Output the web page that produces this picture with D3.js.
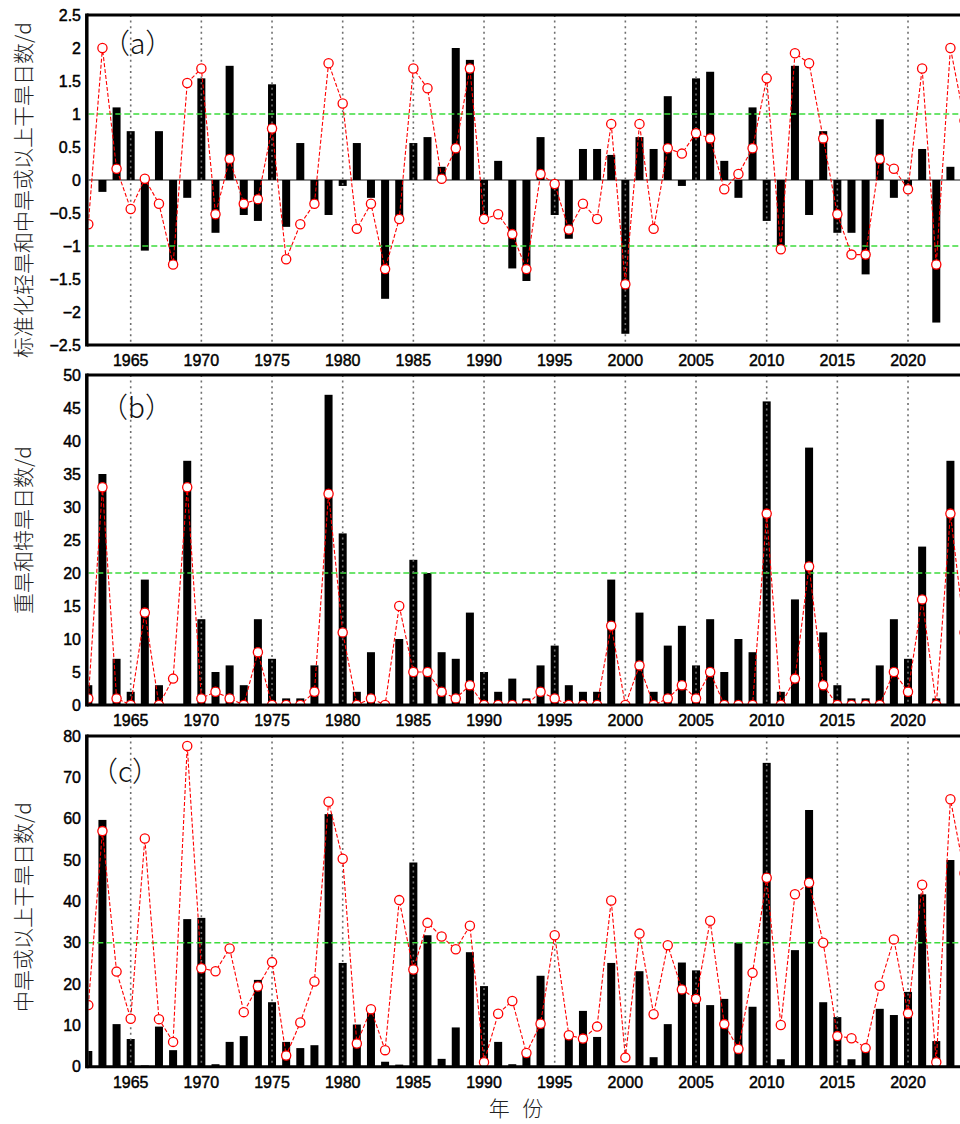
<!DOCTYPE html>
<html><head><meta charset="utf-8">
<script src="https://cdn.jsdelivr.net/npm/d3@7"></script>
<style>
html,body{margin:0;padding:0;background:#fff;}
svg{display:block;}
</style></head>
<body>
<svg id="chart" width="960" height="1124"></svg>
<script>
// ---- data (1962–2024) ----
const years = d3.range(1962, 2025);
const xTicks = [1965,1970,1975,1980,1985,1990,1995,2000,2005,2010,2015,2020];

const aBars = [0,-0.18,1.10,0.74,-1.07,0.74,-1.25,-0.27,1.54,-0.80,1.73,-0.53,-0.62,1.45,-0.71,0.56,-0.33,-0.53,-0.09,0.56,
  -0.27,-1.80,-0.58,0.56,0.65,0.20,2.00,1.82,-0.57,0.29,-1.34,-1.53,0.65,-0.53,-0.89,0.47,0.47,0.38,-2.33,0.65,
  0.47,1.27,-0.09,1.54,1.64,0.29,-0.27,1.10,-0.62,-1.02,1.73,-0.53,0.74,-0.80,-0.80,-1.43,0.92,-0.27,-0.10,0.47,
  -2.16,0.20,0];
const aLine = [-0.67,2.00,0.17,-0.44,0.02,-0.36,-1.28,1.47,1.69,-0.52,0.32,-0.36,-0.29,0.78,-1.20,-0.67,-0.36,1.77,1.16,-0.74,
  -0.36,-1.35,-0.59,1.69,1.39,0.02,0.48,1.69,-0.59,-0.52,-0.82,-1.35,0.09,-0.06,-0.75,-0.36,-0.59,0.85,-1.58,0.85,
  -0.74,0.48,0.40,0.71,0.63,-0.14,0.09,0.48,1.54,-1.05,1.92,1.77,0.63,-0.52,-1.13,-1.13,0.32,0.17,-0.14,1.69,
  -1.28,2.00,0.90];
const bBars = [3,35,7,2,19,3,0,37,13,5,6,3,13,7,1,1,6,47,26,2,
  8,0,10,22,20,8,7,14,5,2,4,1,6,9,3,2,2,19,0,14,
  2,9,12,6,13,5,10,8,46,2,16,39,11,3,1,1,6,13,7,24,
  1,37,0];
const bLine = [1,33,1,0,14,0,4,33,1,2,1,0,8,0,0,0,2,32,11,0,
  1,0,15,5,5,2,1,3,0,0,0,0,2,1,0,0,0,12,0,6,
  0,1,3,1,5,0,0,0,29,0,4,21,3,0,0,0,0,5,2,16,
  0,29,11];
const cBars = [3.8,59.7,10.3,6.7,0.3,9.7,4.0,35.7,36.0,0.6,6.0,7.4,21.0,15.6,6.0,4.5,5.2,61.1,25.1,10.2,
  13.0,1.2,0.5,49.4,31.8,1.9,9.5,27.7,19.5,6.0,0.6,3.0,22.0,0,7.7,13.5,7.2,25.1,0,23.1,
  2.3,10.3,25.2,23.3,14.9,16.4,30.0,14.5,73.5,1.8,28.2,62.1,15.6,12.0,1.8,4.2,14.0,12.5,18.1,41.7,
  6.2,50.0,0];
const cLine = [14.9,57.0,23.0,11.6,55.2,11.5,6.0,77.6,23.8,23.1,28.6,13.2,19.4,25.3,2.7,10.7,20.6,64.1,50.3,5.6,
  13.9,4.0,40.3,23.5,34.8,31.5,28.4,34.1,1.1,12.8,15.9,3.3,10.4,31.8,7.6,6.8,9.7,40.2,2.2,32.2,
  12.7,29.4,18.7,16.4,35.3,10.3,4.3,22.7,45.7,10.1,41.7,44.5,30.0,7.4,6.9,4.5,19.6,30.8,12.9,44.0,
  1.1,64.7,46.8];

const aTicks = [2.5,2,1.5,1,0.5,0,-0.5,-1,-1.5,-2,-2.5];
const bTicks = [0,5,10,15,20,25,30,35,40,45,50];
const cTicks = [0,10,20,30,40,50,60,70,80];

const aRef = [1,-1], bRef = [20], cRef = [30];
const panelLabels = ["（a）","（b）","（c）"];
const yTitles = ["标准化轻旱和中旱或以上干旱日数/d","重旱和特旱日数/d","中旱或以上干旱日数/d"];
const xTitle = "年 份";

// ---- layout ----
const svg = d3.select("#chart");
const left = 88.3;
const x = d3.scaleLinear().domain([1962, 2024]).range([left, left + 62*14.133]);
const barW = 8;

const panels = [
  {top:15, bottom:345, domain:[-2.5,2.5], ticks:aTicks, bars:aBars, line:aLine, refs:aRef, zero:true,
   label:panelLabels[0], lx:102, ly:54, title:yTitles[0], ty:190},
  {top:375, bottom:705, domain:[0,50], ticks:bTicks, bars:bBars, line:bLine, refs:bRef, zero:false,
   label:panelLabels[1], lx:100, ly:418, title:yTitles[1], ty:530},
  {top:736, bottom:1066.7, domain:[0,80], ticks:cTicks, bars:cBars, line:cLine, refs:cRef, zero:false,
   label:panelLabels[2], lx:90, ly:782, title:yTitles[2], ty:907}
];

const fmt = v => String(v).replace("-", "\u2212");

panels.forEach((p, i) => {
  const y = d3.scaleLinear().domain(p.domain).range([p.bottom, p.top]);
  const g = svg.append("g");
  const clipId = "clip" + i;
  svg.append("defs").append("clipPath").attr("id", clipId)
    .append("rect").attr("x", left).attr("y", p.top).attr("width", 1000).attr("height", p.bottom - p.top);
  const inner = g.append("g").attr("clip-path", `url(#${clipId})`);

  if (p.zero) {
    inner.append("line").attr("x1", left).attr("x2", 1000)
      .attr("y1", y(0)).attr("y2", y(0)).attr("stroke", "#8a8a8a").attr("stroke-width", 2);
  }
  inner.selectAll("rect.bar").data(years.map((yr, k) => ({yr, v: p.bars[k]})).filter(d => d.v !== 0))
    .join("rect").attr("class", "bar")
    .attr("x", d => x(d.yr) - barW/2).attr("width", barW)
    .attr("y", d => Math.min(y(0), y(d.v))).attr("height", d => Math.abs(y(d.v) - y(0)))
    .attr("fill", "#000");
  inner.selectAll("line.ref").data(p.refs).join("line").attr("class", "ref")
    .attr("x1", left).attr("x2", 1000).attr("y1", d => y(d)).attr("y2", d => y(d))
    .attr("stroke", "#3ddc3d").attr("stroke-width", 1.4).attr("stroke-dasharray", "6,3");
  inner.selectAll("line.grid").data(xTicks).join("line").attr("class", "grid")
    .attr("x1", d => x(d)).attr("x2", d => x(d)).attr("y1", p.top).attr("y2", p.bottom)
    .attr("stroke", "#6e6e6e").attr("stroke-width", 1.6).attr("stroke-dasharray", "2,3.6");
  const pts = years.map((yr, k) => [x(yr), y(p.line[k])]);
  inner.append("path").attr("d", d3.line()(pts)).attr("fill", "none")
    .attr("stroke", "#ff0000").attr("stroke-width", 1.1).attr("stroke-dasharray", "4,2");
  inner.selectAll("circle").data(pts).join("circle")
    .attr("cx", d => d[0]).attr("cy", d => d[1]).attr("r", 4.6)
    .attr("fill", "#fff").attr("stroke", "#ff0000").attr("stroke-width", 1.3);

  g.append("line").attr("x1", left - 1.5).attr("x2", 960).attr("y1", p.top).attr("y2", p.top)
    .attr("stroke", "#000").attr("stroke-width", 3);
  g.append("line").attr("x1", left - 1.5).attr("x2", 960).attr("y1", p.bottom).attr("y2", p.bottom)
    .attr("stroke", "#000").attr("stroke-width", 3);
  g.append("line").attr("x1", left - 1.5).attr("x2", left - 1.5).attr("y1", p.top - 1.5).attr("y2", p.bottom + 1.5)
    .attr("stroke", "#000").attr("stroke-width", 3.5);

  g.selectAll("text.yt").data(p.ticks).join("text").attr("class", "yt")
    .attr("x", 81).attr("y", d => y(d)).attr("dy", "0.36em")
    .attr("text-anchor", "end").attr("font-family", "Liberation Sans, Arial, sans-serif")
    .attr("font-size", 16).attr("fill", "#000").attr("stroke", "#000").attr("stroke-width", 0.45)
    .text(d => fmt(d));
  g.selectAll("text.xt").data(xTicks).join("text").attr("class", "xt")
    .attr("x", d => x(d)).attr("y", p.bottom + 21)
    .attr("text-anchor", "middle").attr("font-family", "Liberation Sans, Arial, sans-serif")
    .attr("font-size", 16).attr("fill", "#000").attr("stroke", "#000").attr("stroke-width", 0.45)
    .text(d => d);

  g.append("text").attr("x", p.lx).attr("y", p.ly)
    .attr("font-family", "Noto Sans CJK SC, sans-serif").attr("font-size", 28).attr("font-weight", 300)
    .attr("fill", "#111").text(p.label);

  g.append("text").attr("transform", `translate(31,${p.ty}) rotate(-90)`)
    .attr("text-anchor", "middle").attr("font-family", "Noto Sans CJK SC, sans-serif")
    .attr("font-size", 21).attr("font-weight", 300).attr("fill", "#222").text(p.title);
});

svg.append("text").attr("x", 516).attr("y", 1116).attr("text-anchor", "middle")
  .attr("font-family", "Noto Sans CJK SC, sans-serif").attr("font-size", 21).attr("font-weight", 300)
  .attr("word-spacing", 8).attr("fill", "#222").text(xTitle);
</script>
</body></html>
